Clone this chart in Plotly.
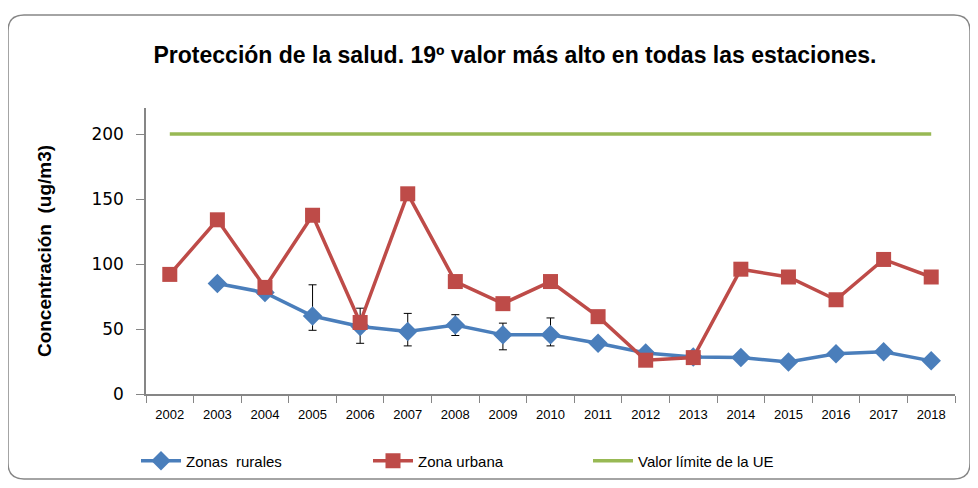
import plotly.graph_objects as go

years = [str(y) for y in range(2002, 2019)]
urbana = [92, 134, 82, 137.5, 55, 154, 86.5, 69.5, 86.5, 59.5, 26, 28, 96, 90, 72.5, 103.5, 90]
rurales = [None, 85, 78, 60, 52, 48, 53, 45.5, 45.5, 39, 31.5, 28.5, 28, 24.7, 31, 32.5, 25.5]
err_plus = [None, None, None, 24, 14, 14, 8, 9, 13, None, None, None, None, None, None, None, None]
err_minus = [None, None, None, 11, 13, 11, 8, 11.5, 8.5, None, None, None, None, None, None, None, None]
limite = [200] * len(years)

# page has an 8px body margin; work in page pixels and convert
OFF = 8
W, H = 978 - 2 * OFF, 488 - 2 * OFF
L, R, T, B = 146 - OFF, 955 - OFF, 108 - OFF, 394 - OFF

def px(X):
    return (X - OFF - L) / (R - L)

def py(Y):
    return (B - (Y - OFF)) / (B - T)

sans = "Liberation Sans, Arial, sans-serif"

fig = go.Figure()
fig.add_trace(go.Scatter(
    x=years, y=rurales, name="Zonas  rurales", mode="lines+markers",
    line=dict(color="#4A7EBB", width=3.5),
    marker=dict(symbol="diamond", size=15, color="#4A7EBB"),
    error_y=dict(type="data", array=err_plus, arrayminus=err_minus, symmetric=False,
                 color="black", thickness=1, width=4),
    legend="legend"))
fig.add_trace(go.Scatter(
    x=years, y=urbana, name="Zona urbana", mode="lines+markers",
    line=dict(color="#BE4B48", width=3.5),
    marker=dict(symbol="square", size=15, color="#BE4B48"),
    legend="legend2"))
fig.add_trace(go.Scatter(
    x=years, y=limite, name="Valor límite de la UE", mode="lines",
    line=dict(color="#98B954", width=3.5),
    legend="legend3"))

# rounded chart border (page pixel coordinates)
x0, x1, y0, y1, r = 8, 970, 15, 479, 16
path = (f"M {px(x0+r)},{py(y0)} L {px(x1-r)},{py(y0)} Q {px(x1)},{py(y0)} {px(x1)},{py(y0+r)} "
        f"L {px(x1)},{py(y1-r)} Q {px(x1)},{py(y1)} {px(x1-r)},{py(y1)} "
        f"L {px(x0+r)},{py(y1)} Q {px(x0)},{py(y1)} {px(x0)},{py(y1-r)} "
        f"L {px(x0)},{py(y0+r)} Q {px(x0)},{py(y0)} {px(x0+r)},{py(y0)} Z")
fig.add_shape(type="path", path=path, xref="paper", yref="paper",
              line=dict(color="#868686", width=1.5), layer="below")

legfont = dict(family=sans, size=15, color="black")
def leg(xpix):
    return dict(x=px(xpix), y=py(461), xanchor="left", yanchor="middle",
                orientation="h", font=legfont, bgcolor="rgba(0,0,0,0)",
                itemwidth=40, tracegroupgap=0)

fig.update_layout(
    width=W, height=H,
    margin=dict(l=L, r=W - R, t=T, b=H - B, autoexpand=False),
    paper_bgcolor="white", plot_bgcolor="white",
    title=dict(text="<b>Protección de la salud. 19º valor más alto en todas las estaciones.</b>",
               xref="container", x=(515 - OFF) / W, xanchor="center",
               yref="container", y=1 - (55 - OFF) / H, yanchor="middle",
               font=dict(family=sans, size=23, color="black")),
    showlegend=True,
    legend=leg(136), legend2=leg(368), legend3=leg(588),
    xaxis=dict(type="category", tickson="boundaries", ticks="outside", ticklen=7,
               tickcolor="#868686", showline=True, linecolor="#868686", linewidth=1.5,
               showgrid=False, tickfont=dict(family=sans, size=13, color="black"),
               ticklabelstandoff=8, range=[-0.5, 16.5]),
    yaxis=dict(range=[0, 220], tickvals=[0, 50, 100, 150, 200], ticks="outside", ticklen=8,
               tickcolor="#868686", showline=True, linecolor="#868686", linewidth=1.5,
               showgrid=False, zeroline=False, ticklabelstandoff=9,
               tickfont=dict(family="DejaVu Sans, Verdana, sans-serif", size=17, color="black"),
               title=dict(text="<b>Concentración  (ug/m3)</b>", standoff=35,
                          font=dict(family=sans, size=19, color="black"))),
)

fig.write_html("out.html")
